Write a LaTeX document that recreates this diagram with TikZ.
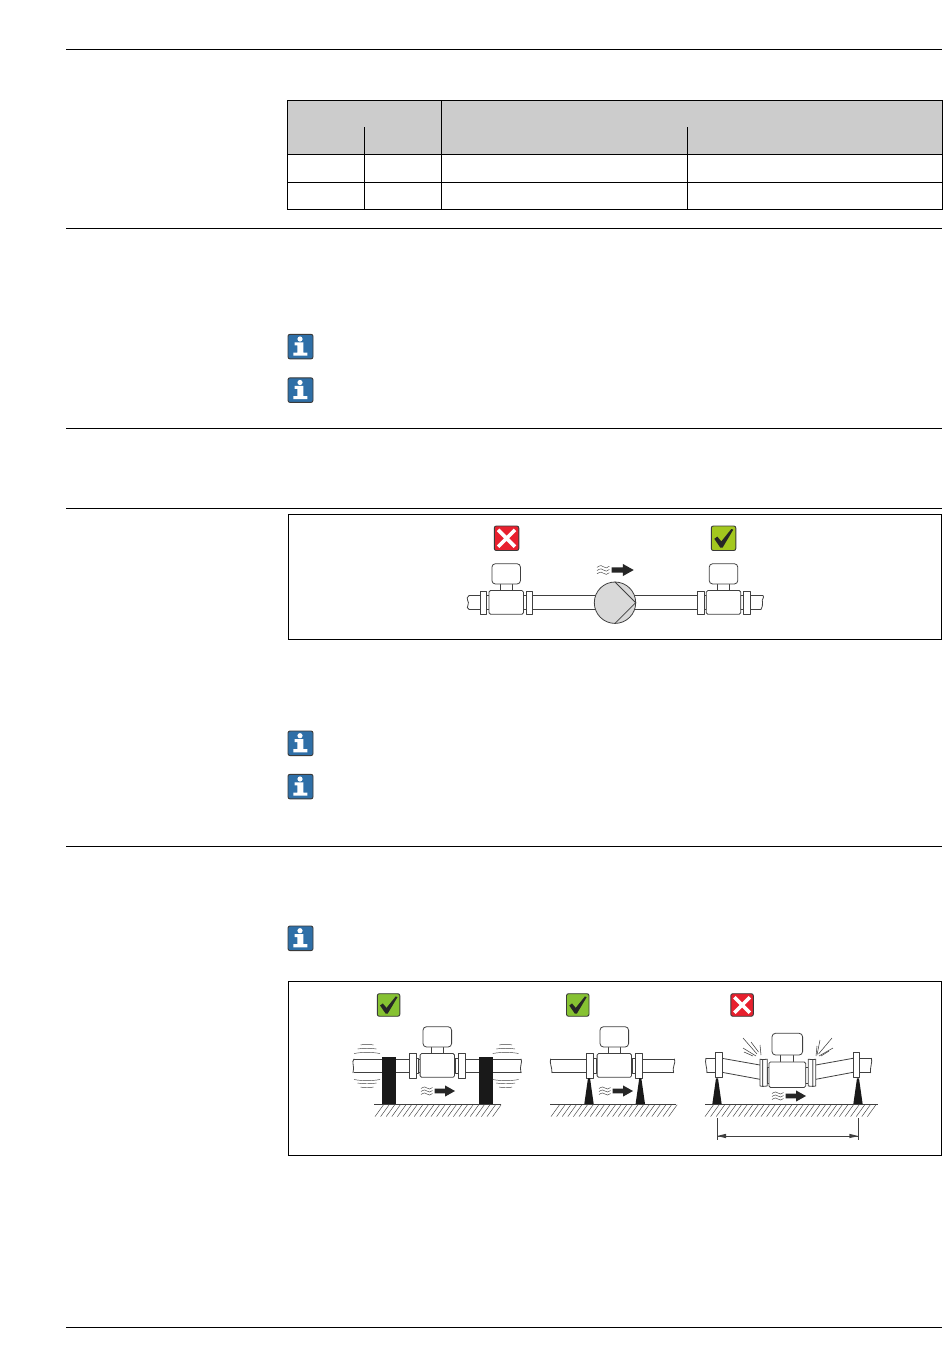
\documentclass[tikz,border=0pt]{standalone}
\definecolor{linegray}{gray}{0.25}
\definecolor{headgray}{gray}{0.8}
\definecolor{pumpgray}{gray}{0.85}
\definecolor{okgreen}{HTML}{A3C81E}
\definecolor{okgreenb}{HTML}{86C232}
\definecolor{badred}{HTML}{E8202E}
\definecolor{infoblue}{HTML}{2F6FA7}
\definecolor{icondark}{HTML}{3A3A3A}
\tikzset{
  rule/.style={draw=black,line width=0.9pt},
  frameline/.style={draw=black,line width=0.9pt},
  part/.style={draw=linegray,line width=0.8pt,fill=white,line join=round},
  pipeline/.style={draw=linegray,line width=0.8pt,line cap=round},
  thinline/.style={draw=linegray,line width=0.45pt},
  iconbox/.style={draw=icondark,line width=0.9pt,rounded corners=2pt},
  badicon/.pic={
    \path[iconbox,fill=badred] (0,0) rectangle (24.5,24.5);
    \draw[white,line width=3.6pt] (3.8,3.8) -- (20.7,20.7) (3.8,20.7) -- (20.7,3.8);
  },
  okicon/.pic={
    \path[iconbox,fill=okgreen] (0,0) rectangle (24.5,24.5);
    \fill[black!85] (3,12.8) -- (6,10.6) -- (10,15.4) -- (20,3) -- (22,3.6) -- (11.3,21.6) -- (9,21.6) -- cycle;
  },
  okiconb/.pic={
    \path[iconbox,fill=okgreenb] (0,0) rectangle (24.5,24.5);
    \fill[black!85] (3,12.8) -- (6,10.6) -- (10,15.4) -- (20,3) -- (22,3.6) -- (11.3,21.6) -- (9,21.6) -- cycle;
  },
  infoicon/.pic={
    \path[draw=icondark,line width=0.9pt,rounded corners=2pt,fill=infoblue] (0,0) rectangle (25,24.6);
    \fill[white] (12,4.7) circle (2.6);
    \fill[white] (6.7,8) -- (15.3,8) -- (15.3,18.2) -- (19.3,18.2) -- (19.3,21.3) -- (5.3,21.3) -- (5.3,18.2) -- (9.3,18.2) -- (9.3,11) -- (6.7,11) -- cycle;
  },
  meterbody/.pic={
    \path[part] (-6,-20) rectangle (6,-12);
    \path[part,rounded corners=3.5pt] (-14.3,-38.8) rectangle (14.3,-18.5);
    \path[part,rounded corners=1.5pt] (-17.2,-12) rectangle (17.2,11.8);
  },
  meterflanged/.pic={
    \path[part] (-19.5,-7) rectangle (-17.2,7);
    \path[part] (17.2,-7) rectangle (19.8,7);
    \path[part] (-25.9,-11.2) rectangle (-19.5,11.8);
    \path[part] (19.8,-11.2) rectangle (26.5,11.8);
    \pic {meterbody};
  },
  flowmark/.pic={
    \foreach \yy in {-3,0,3}{
      \draw[thinline] (0,\yy+0.5) .. controls (3,\yy-1.5) and (5,\yy-1.5) .. (6,\yy)
        .. controls (7.5,\yy+1.5) and (9.5,\yy+1.5) .. (11.5,\yy-0.5);
    }
    \fill[black!85] (13.5,-2.4) -- (24,-2.4) -- (24,-5.6) -- (34,0) -- (24,5.6) -- (24,2.4) -- (13.5,2.4) -- cycle;
  },
  hatchground/.pic={
    \foreach \hx in {0,5.6,...,\hlen}{
      \draw[thinline] (\hx,12.6) -- (\hx+8.5,0.8);
    }
  },
  support/.pic={
    \fill[black!90] (0,0) -- (-1,0) -- (-4.7,26) -- (4.7,26) -- (1,0) -- cycle;
  }
}
\begin{document}
\begin{tikzpicture}[x=1pt,y=-1pt]
\useasboundingbox (0,0) rectangle (950,1369);
\fill[white] (0,0) rectangle (950,1369);
% page rules
\foreach \ry in {49.5,228.5,428.5,508.5,846.5,1327.5}{
  \draw[rule] (66,\ry) -- (942,\ry);
}
% table
\fill[headgray] (287.7,100.2) rectangle (942.5,154.5);
\draw[frameline] (287.7,100.2) rectangle (942.5,209);
\draw[frameline] (287.7,154.5) -- (942.5,154.5) (287.7,182.3) -- (942.5,182.3);
\draw[frameline] (441.6,100.2) -- (441.6,209);
\draw[frameline] (364.4,127) -- (364.4,209);
\draw[frameline] (687.5,127) -- (687.5,209);
% info icons
\foreach \iy in {334.3,377.8,731,774.3,926}{
  \pic at (288,\iy) {infoicon};
}
% frame 1
\draw[frameline] (288.5,514.5) rectangle (941.5,639.5);
\pic at (494.3,526) {badicon};
\pic at (711.3,526) {okicon};
% pipes
\draw[pipeline] (469,595.7) -- (763,595.7);
\draw[pipeline] (469,609.3) -- (761,609.3);
\draw[pipeline] (469,595.7) .. controls (464.5,598) and (470,602) .. (468,605) .. controls (467,607) and (467,608.5) .. (469,609.3);
\draw[pipeline] (763,595.7) .. controls (765,597) and (761,600) .. (762.5,602) .. controls (763,605) and (762,608) .. (761,609.3);
\pic at (506.2,602.5) {meterflanged};
\pic at (723.5,602.5) {meterflanged};
\path[part,fill=pumpgray] (615,602.7) circle (20.7);
\draw[pipeline] (615,582) -- (635.7,602.7) -- (615,623.4);
\pic[scale=1.08] at (597,570) {flowmark};
% frame 2
\draw[frameline] (288.5,981.5) rectangle (941.5,1155.5);
\pic[scale=0.92] at (377.3,993.7) {okiconb};
\pic[scale=0.92] at (566.5,993.7) {okiconb};
\pic[scale=0.92] at (730.8,993.7) {badicon};
% diagram A
\draw[pipeline] (354,1059) -- (521,1059);
\draw[pipeline,line width=1pt] (354,1072.7) -- (521,1072.7);
\draw[pipeline] (354,1059) .. controls (351,1062) and (355,1066) .. (353,1072.7);
\draw[pipeline] (521,1059) .. controls (523,1062) and (519,1066) .. (521,1072.7);
\pic[scale=1.07] at (437.3,1065.5) {meterflanged};
\fill[black!90] (382,1057) rectangle (396,1104);
\fill[black!90] (479,1057) rectangle (493,1104);
\draw[linegray,line width=1pt] (374,1104) -- (500.7,1104);
\def\hlen{118}
\pic at (375,1104) {hatchground};
\pic at (421,1091) {flowmark};
\foreach \ax in {367,505.7}{
  \draw[thinline] (\ax-6.5,1045) .. controls (\ax-3,1044) and (\ax+3,1044) .. (\ax+6.5,1045);
  \draw[thinline] (\ax-9.5,1049) .. controls (\ax-4,1048) and (\ax+4,1048) .. (\ax+9.5,1049);
  \draw[thinline] (\ax-13,1053.5) .. controls (\ax-5,1052) and (\ax+5,1052) .. (\ax+13,1053.5);
  \draw[thinline] (\ax-13,1079.5) .. controls (\ax-5,1081) and (\ax+5,1081) .. (\ax+13,1079.5);
  \draw[thinline] (\ax-9.5,1083) .. controls (\ax-4,1084) and (\ax+4,1084) .. (\ax+9.5,1083);
  \draw[thinline] (\ax-6.5,1087) .. controls (\ax-3,1088) and (\ax+3,1088) .. (\ax+6.5,1087);
}
% diagram B
\draw[pipeline] (550.5,1059) -- (674.5,1059);
\draw[pipeline,line width=1pt] (552,1072.7) -- (673.5,1072.7);
\draw[pipeline] (550.5,1059) .. controls (549.5,1063) and (552,1067) .. (552,1072.7);
\draw[pipeline] (674.5,1059) .. controls (676,1063) and (672,1067) .. (673.5,1072.7);
\pic[scale=1.07] at (614.3,1065.5) {meterflanged};
\pic at (589,1078) {support};
\pic at (640.3,1078) {support};
\draw[linegray,line width=1pt] (550,1104) -- (676,1104);
\def\hlen{118}
\pic at (551,1104) {hatchground};
\pic at (599,1091) {flowmark};
% diagram C
\draw[pipeline] (706,1058.3) -- (716,1058.3);
\draw[pipeline,line width=1pt] (707,1072.7) -- (716,1072.7);
\draw[pipeline] (706,1058.3) .. controls (704.5,1062) and (707,1067) .. (707,1072.7);
\draw[pipeline] (859,1058.3) -- (871.5,1058.3);
\draw[pipeline,line width=1pt] (859,1072.7) -- (870.5,1072.7);
\draw[pipeline] (871.5,1058.3) .. controls (872.5,1062) and (870,1067) .. (870.5,1072.7);
\draw[pipeline] (722,1058.3) -- (760,1065) (722,1072.3) -- (760,1079.3);
\draw[pipeline] (815.7,1065) -- (853,1058.3) (815.7,1079.3) -- (853,1072.3);
\path[part] (715.3,1052.3) rectangle (722,1077.3);
\path[part] (853,1052.3) rectangle (859.7,1077.3);
\pic at (717,1078.3) {support};
\pic at (858,1078.3) {support};
\path[part] (767,1067) rectangle (769.5,1083);
\path[part] (805.5,1067) rectangle (808.2,1083);
\path[part] (760,1059.2) -- (762.8,1059.6) -- (762.8,1086.4) -- (760,1086) -- cycle;
\path[part] (762.8,1059.6) -- (767.2,1059.2) -- (767.2,1086) -- (762.8,1086.4) -- cycle;
\path[part] (815.8,1059.2) -- (812.8,1059.6) -- (812.8,1086.4) -- (815.8,1086) -- cycle;
\path[part] (812.8,1059.6) -- (808.2,1059.2) -- (808.2,1086) -- (812.8,1086.4) -- cycle;
\pic[scale=1.07] at (787.3,1074.8) {meterbody};
\foreach \ax/\ay/\bx/\by in {
  757/1054/743/1038,
  756/1056/743/1048,
  758.5/1052/751/1042,
  761/1055/760/1045,
  753/1056/744/1052,
  817/1055/820/1040,
  818.5/1054/832/1038,
  819/1056/833/1048,
  816/1056/817/1046,
  821/1056/829/1051}{
  \draw[thinline,line width=0.55pt] (\ax,\ay) -- (\bx,\by);
}
\draw[linegray,line width=1pt] (705,1104) -- (878,1104);
\def\hlen{168}
\pic at (705,1104) {hatchground};
\pic at (772,1096) {flowmark};
\draw[thinline,line width=0.7pt] (717,1118.3) -- (717,1140) (858.3,1118.3) -- (858.3,1140);
\draw[linegray,line width=0.7pt] (717,1136) -- (858.3,1136);
\fill[linegray] (717,1136) -- (726,1133.8) -- (726,1138.2) -- cycle;
\fill[linegray] (858.3,1136) -- (849.3,1133.8) -- (849.3,1138.2) -- cycle;
\end{tikzpicture}
\end{document}
